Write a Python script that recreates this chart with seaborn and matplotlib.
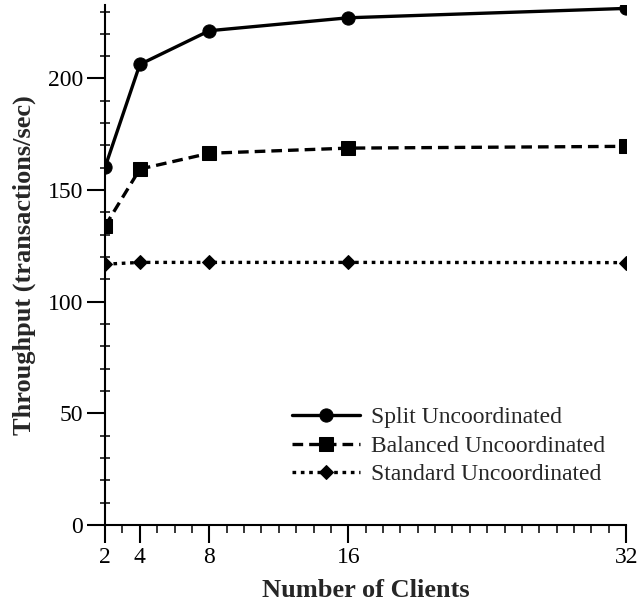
import pandas as pd
import numpy as np
import matplotlib
matplotlib.use('Agg')
import matplotlib.pyplot as plt
import seaborn as sns
from matplotlib.ticker import MultipleLocator, FixedLocator

clients = [2, 4, 8, 16, 32]
split_unc = [160.3, 206.3, 221.4, 227.2, 231.4]
balanced_unc = [133.9, 159.4, 166.5, 168.8, 169.6]
standard_unc = [116.8, 117.6, 117.6, 117.6, 117.5]
series_names = ['Split Uncoordinated', 'Balanced Uncoordinated', 'Standard Uncoordinated']

df = pd.concat([
    pd.DataFrame({'clients': clients, 'throughput': vals, 'series': name})
    for name, vals in zip(series_names, [split_unc, balanced_unc, standard_unc])
])

sns.set_style('ticks')
plt.rcParams['font.family'] = ['Liberation Serif', 'DejaVu Serif']

fig = plt.figure(figsize=(6.37, 6.04), dpi=100)
ax = fig.add_axes([0.165, 0.131, 0.818, 0.861])

sns.lineplot(data=df, x='clients', y='throughput', style='series',
             style_order=series_names, color='black', linewidth=2.4,
             markers={'Split Uncoordinated': 'o', 'Balanced Uncoordinated': 's',
                      'Standard Uncoordinated': 'D'},
             dashes={'Split Uncoordinated': '', 'Balanced Uncoordinated': (3.2, 1.8),
                     'Standard Uncoordinated': (1.1, 1.4)},
             markersize=9.5, markeredgecolor='black', ax=ax)

# diamonds a bit smaller than the others
for line in ax.get_lines():
    if line.get_marker() == 'D':
        line.set_markersize(7.5)

ax.set_xlim(2, 32)
ax.set_ylim(0, 233)
ax.xaxis.set_major_locator(FixedLocator(clients))
ax.xaxis.set_minor_locator(MultipleLocator(1))
ax.yaxis.set_major_locator(MultipleLocator(50))
ax.yaxis.set_minor_locator(MultipleLocator(10))
ax.tick_params(axis='both', which='major', direction='out', length=13, width=1.5,
               labelsize=17, colors='black', pad=3)
ax.tick_params(axis='x', which='minor', direction='out', length=6, width=1.3)
ax.tick_params(axis='y', which='minor', direction='inout', length=7, width=1.3)
for sp in ['left', 'bottom']:
    ax.spines[sp].set_linewidth(1.5)
    ax.spines[sp].set_color('black')
sns.despine(ax=ax)

ax.set_xlabel('Number of Clients', fontsize=19, fontweight='bold', labelpad=8)
ax.set_ylabel('Throughput (transactions/sec)', fontsize=19, fontweight='bold', labelpad=8)

handles, labels = ax.get_legend_handles_labels()
leg = ax.legend(handles, labels, loc='lower right', bbox_to_anchor=(1.0, 0.035),
                frameon=False, fontsize=17, handlelength=2.9, handletextpad=0.45,
                labelspacing=0.3)

fig.savefig('out.png', dpi=100)
